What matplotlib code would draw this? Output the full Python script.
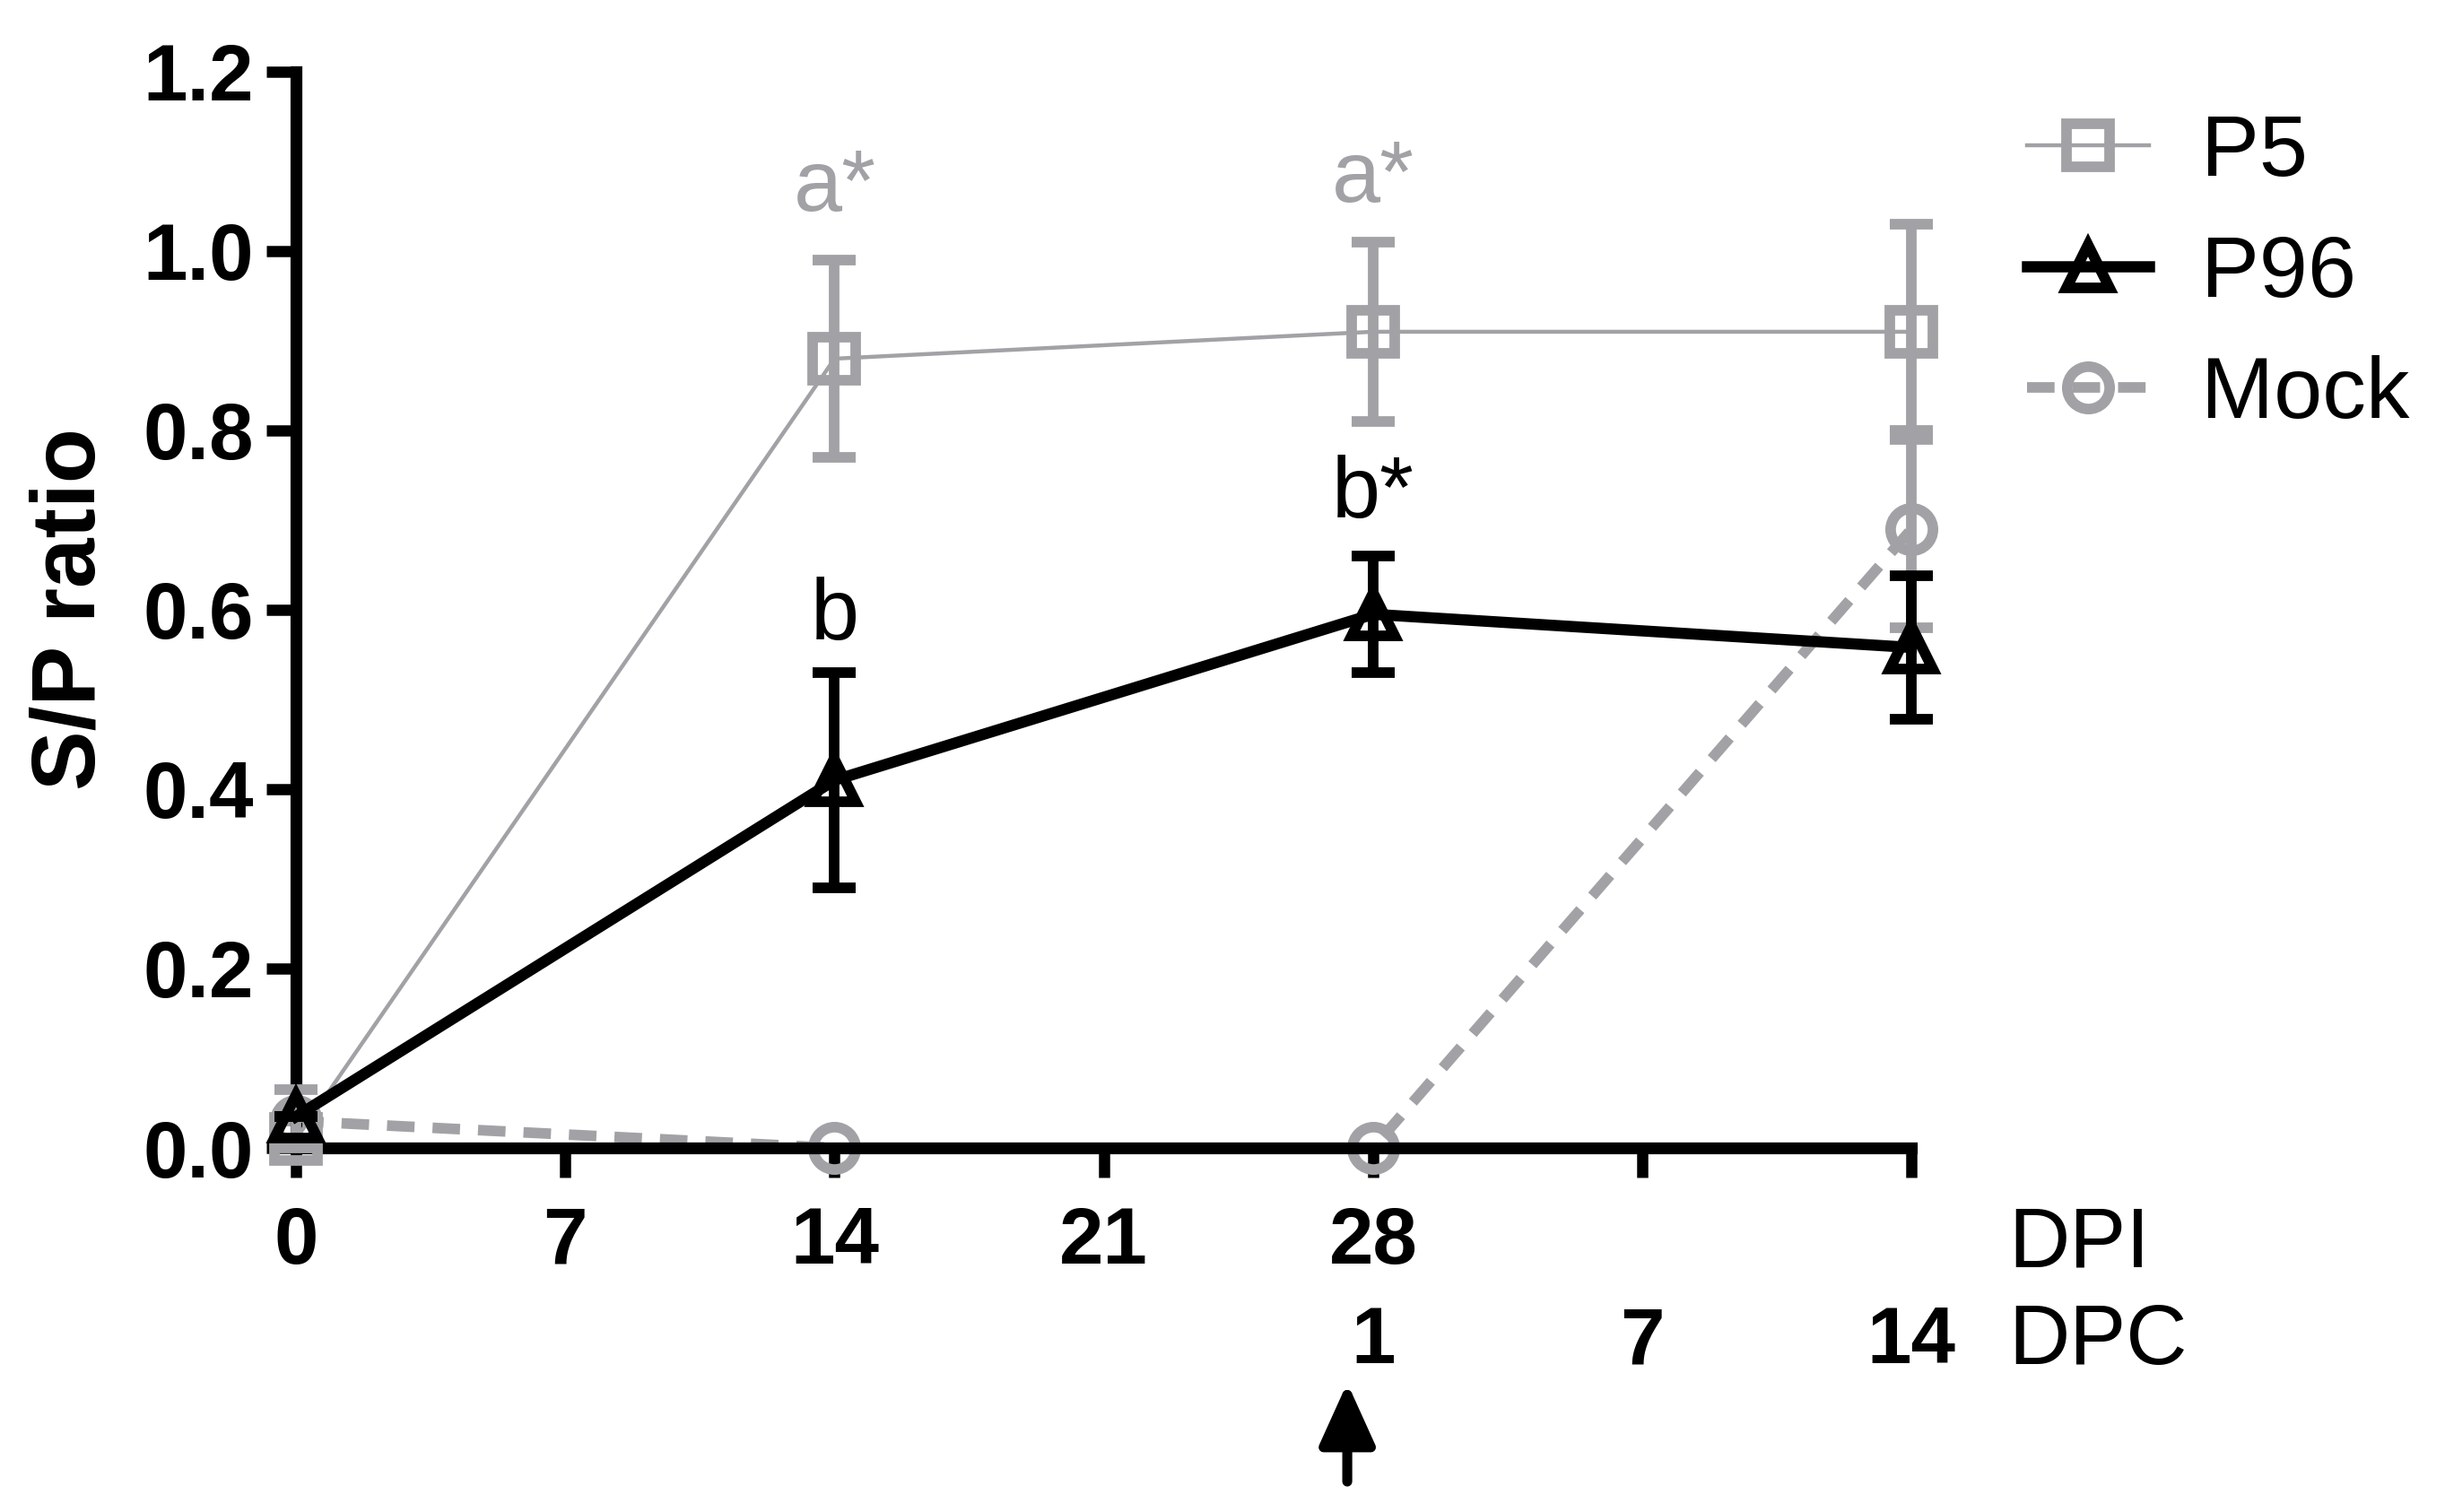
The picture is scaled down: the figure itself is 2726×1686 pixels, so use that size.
import matplotlib
matplotlib.use('Agg')
import matplotlib.pyplot as plt
from matplotlib.lines import Line2D

# days on one continuous axis: 0..28 DPI, then 7 and 14 DPC
days = [0, 14, 28, 42]
p5 = [0.01, 0.88, 0.91, 0.91]
p5_err_lo = [0.01, 0.11, 0.10, 0.12]
p5_err_hi = [0.055, 0.11, 0.10, 0.12]
p96 = [0.035, 0.41, 0.595, 0.558]
p96_err = [0.0, 0.12, 0.065, 0.08]
mock = [0.03, 0.0, 0.0, 0.69]
mock_err = [0.0, 0.0, 0.0, 0.11]

dpi_ticks = [0, 7, 14, 21, 28, 35, 42]
dpi_labels = ['0', '7', '14', '21', '28', '', '']
dpc_pos = [28, 35, 42]
dpc_labels = ['1', '7', '14']

letters = [(14, 1.045, 'a*', 'p5'), (28, 1.055, 'a*', 'p5'),
           (14, 0.567, 'b', 'p96'), (28, 0.703, 'b*', 'p96')]

gray = '#a2a2a6'
sans = 'Liberation Sans'
ms = 34
mew = 8.5
mock_dash = (0, (2.6, 1.7))

fig = plt.figure(figsize=(27.26, 16.86), dpi=100)
ax = fig.add_axes([0.1211, 0.2408, 0.6607, 0.7118])

# Mock
ax.errorbar(days, mock, yerr=mock_err, color=gray, lw=8.5, ls=mock_dash,
            marker='o', ms=ms, mfc='none', mew=mew, ecolor=gray, elinewidth=8.5,
            capsize=17, capthick=8.5, clip_on=False, zorder=2)
# P5
ax.errorbar(days, p5, yerr=[p5_err_lo, p5_err_hi], color=gray, lw=3.2,
            marker='s', ms=ms, mfc='none', mew=mew, ecolor=gray, elinewidth=8.5,
            capsize=17, capthick=8.5, clip_on=False, zorder=3)
# P96
ax.errorbar(days, p96, yerr=p96_err, color='black', lw=9, marker='^', ms=ms,
            mfc='none', mew=mew, ecolor='black', elinewidth=8.5, capsize=17,
            capthick=8.5, clip_on=False, zorder=4)

ax.set_xlim(0, 42)
ax.set_ylim(0, 1.2)

for s in ['top', 'right']:
    ax.spines[s].set_visible(False)
for s in ['left', 'bottom']:
    ax.spines[s].set_linewidth(9.5)

ax.set_yticks([0, 0.2, 0.4, 0.6, 0.8, 1.0, 1.2])
ax.set_yticklabels(['0.0', '0.2', '0.4', '0.6', '0.8', '1.0', '1.2'])
ax.set_xticks(dpi_ticks)
ax.set_xticklabels(dpi_labels)
ax.tick_params(axis='both', length=24, width=9, direction='out')
ax.tick_params(axis='y', pad=10)
ax.tick_params(axis='x', pad=22)
for lab in ax.get_xticklabels() + ax.get_yticklabels():
    lab.set_fontfamily(sans)
    lab.set_fontweight('bold')
    lab.set_fontsize(64)

# second row of x labels (days post challenge)
tr = ax.get_xaxis_transform()
for x, lab in zip(dpc_pos, dpc_labels):
    ax.text(x, -0.2, lab, transform=tr, ha='center', va='baseline',
            fontsize=64, fontweight='bold', family=sans)
ax.text(1.06, -0.11, 'DPI', transform=ax.transAxes, ha='left', va='baseline',
        fontsize=68, family=sans)
ax.text(1.06, -0.201, 'DPC', transform=ax.transAxes, ha='left', va='baseline',
        fontsize=68, family=sans)

ax.set_ylabel('S/P ratio', fontsize=72, fontweight='bold', family=sans)
ax.yaxis.set_label_coords(-0.113, 0.501)

for x, y, t, grp in letters:
    ax.text(x, y, t, ha='center', va='baseline', fontsize=70, family=sans,
            color=gray if grp == 'p5' else 'black')

# challenge arrow
ax.annotate('', xy=(27.33, -0.262), xytext=(27.33, -0.372),
            xycoords='data', textcoords='data', annotation_clip=False,
            arrowprops=dict(arrowstyle='-|>,head_length=0.42,head_width=0.19',
                            mutation_scale=100, color='black', lw=8,
                            shrinkA=0, shrinkB=0))

handles = [
    Line2D([], [], color=gray, lw=3.2, marker='s', ms=ms, mfc='none', mew=mew),
    Line2D([], [], color='black', lw=9, marker='^', ms=ms, mfc='none', mew=mew),
    Line2D([], [], color=gray, lw=8.5, ls=mock_dash, marker='o', ms=ms,
           mfc='none', mew=mew),
]
leg = fig.legend(handles, ['P5', 'P96', 'Mock'], loc='upper left',
                 bbox_to_anchor=(0.829, 0.925), frameon=False, fontsize=70,
                 handlelength=1.4, handletextpad=0.6, labelspacing=0.46,
                 borderaxespad=0, borderpad=0)
for t in leg.get_texts():
    t.set_fontfamily(sans)

fig.savefig('out.png', dpi=100)
